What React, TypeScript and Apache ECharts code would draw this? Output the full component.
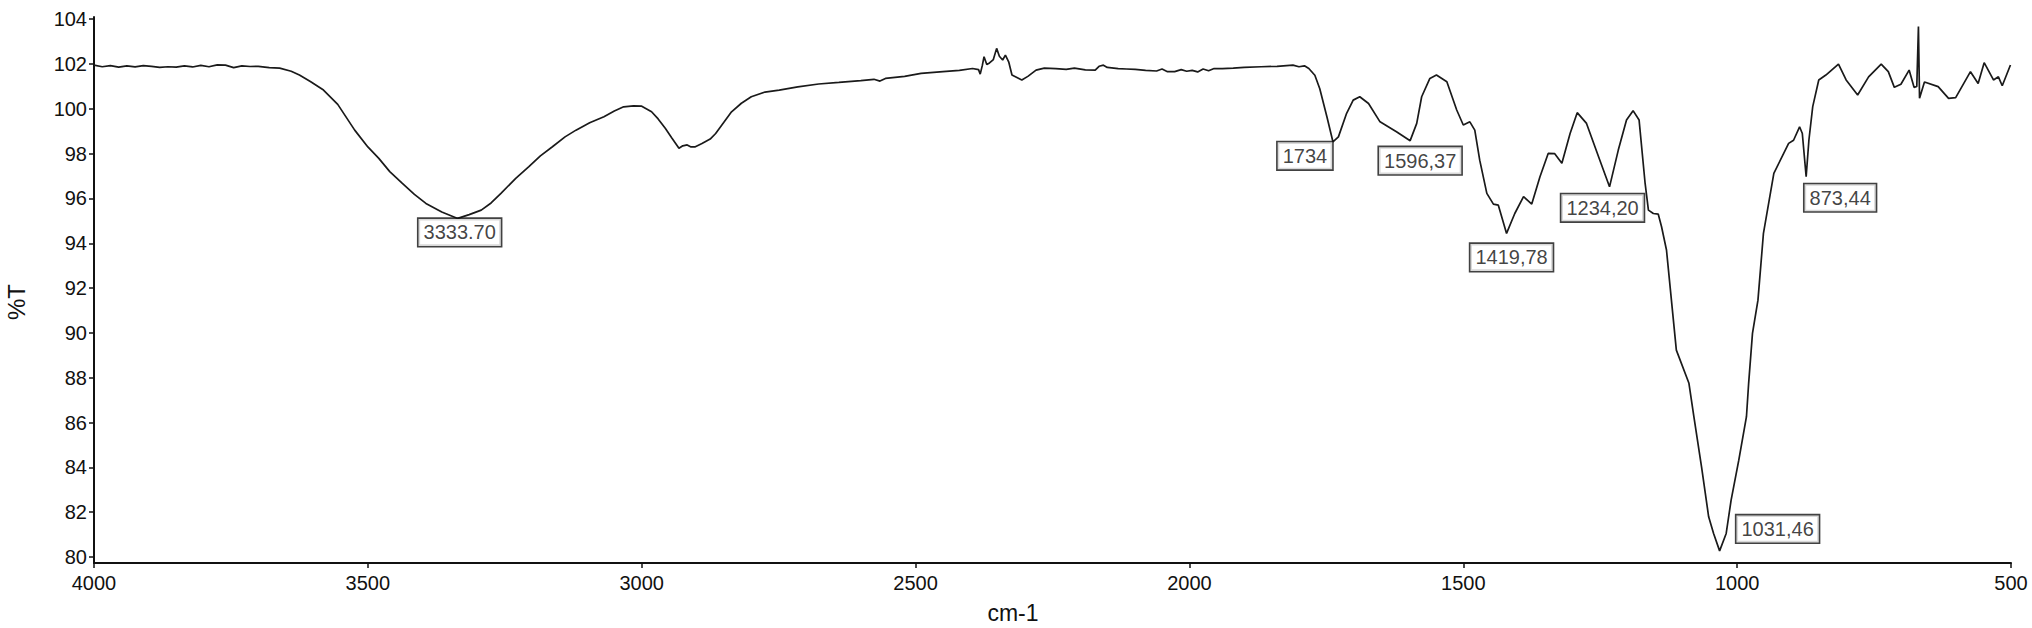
import { useEffect, useRef } from "react";
import * as echarts from "echarts";

// FTIR spectrum (cm-1 vs %T)
const wavenumbers = [
  4000, 3985, 3970, 3955, 3940, 3925, 3910, 3895, 3880, 3865, 3850, 3835, 3820, 3805, 3790, 3775,
  3760, 3745, 3730, 3715, 3700, 3680, 3661, 3640, 3625, 3605, 3581, 3555, 3524, 3500, 3480, 3460,
  3437, 3415, 3394, 3365, 3336, 3315, 3293, 3275, 3257, 3230, 3206, 3185, 3163, 3140, 3120, 3095,
  3069, 3050, 3033, 3015, 3000, 2982, 2970, 2957, 2945, 2932, 2925, 2917, 2910, 2903, 2890, 2875,
  2865, 2850, 2836, 2818, 2800, 2775, 2749, 2715, 2677, 2640, 2600, 2576, 2565, 2555, 2520, 2490,
  2450, 2420, 2396, 2385, 2382, 2378, 2375, 2370, 2365, 2358, 2352, 2347, 2341, 2336, 2330, 2324,
  2315, 2306, 2295, 2280, 2265, 2244, 2225, 2210, 2190, 2172, 2165, 2157, 2150, 2130, 2115, 2099,
  2080, 2060, 2050, 2040, 2027, 2015, 2005, 1995, 1985, 1975, 1965, 1955, 1940, 1920, 1900, 1869,
  1840, 1811, 1800, 1790, 1782, 1771, 1762, 1749, 1738, 1728, 1713, 1701, 1689, 1673, 1652, 1622,
  1597, 1585, 1576, 1561, 1549, 1530, 1512, 1500, 1488, 1479, 1470, 1457, 1445, 1436, 1421, 1406,
  1390, 1375, 1360, 1345, 1333, 1320, 1305, 1292, 1275, 1253, 1233, 1217, 1202, 1190, 1179, 1168,
  1162, 1153, 1144, 1138, 1129, 1120, 1111, 1088, 1079, 1065, 1052, 1043, 1032, 1020, 1011, 997,
  983, 979, 972, 962, 952, 933, 906, 897, 886, 881, 874, 869, 862, 851, 838, 815,
  801, 780, 760, 737, 724, 713, 701, 686, 677, 672, 669, 667, 658, 633, 614, 601,
  574, 560, 549, 532, 523, 516, 501,
];

const transmittance = [
  101.95, 101.88, 101.93, 101.86, 101.92, 101.87, 101.93, 101.9, 101.85, 101.88, 101.86, 101.92, 101.87, 101.94, 101.88, 101.96,
  101.95, 101.84, 101.92, 101.89, 101.9, 101.84, 101.82, 101.68, 101.51, 101.22, 100.84, 100.2, 99.05, 98.3, 97.79, 97.2,
  96.67, 96.18, 95.78, 95.4, 95.11, 95.28, 95.48, 95.8, 96.23, 96.9, 97.42, 97.9, 98.31, 98.75, 99.05, 99.38,
  99.65, 99.9, 100.09, 100.13, 100.12, 99.87, 99.55, 99.13, 98.7, 98.24, 98.35, 98.39, 98.3, 98.3, 98.45, 98.65,
  98.9, 99.4, 99.87, 100.25, 100.54, 100.75, 100.84, 100.98, 101.11, 101.18, 101.26, 101.32, 101.24, 101.36, 101.45, 101.58,
  101.66, 101.72, 101.8, 101.75, 101.55, 101.95, 102.33, 101.98, 102.05, 102.2, 102.7, 102.35, 102.18, 102.4, 102.1, 101.51,
  101.4, 101.29, 101.45, 101.73, 101.82, 101.8, 101.76, 101.82, 101.74, 101.73, 101.9, 101.95, 101.85, 101.8, 101.78, 101.76,
  101.72, 101.69, 101.78, 101.66, 101.66, 101.75, 101.68, 101.72, 101.65, 101.78, 101.7, 101.8, 101.8, 101.82, 101.85, 101.88,
  101.9, 101.95, 101.88, 101.92, 101.8, 101.5, 100.9, 99.65, 98.53, 98.75, 99.8, 100.39, 100.54, 100.24, 99.42, 98.98,
  98.58, 99.35, 100.54, 101.36, 101.51, 101.21, 99.95, 99.28, 99.42, 99.05, 97.71, 96.23, 95.75, 95.7, 94.44, 95.33,
  96.08, 95.75, 96.97, 98.01, 98.0, 97.57, 98.9, 99.83, 99.35, 97.86, 96.52, 98.16, 99.5, 99.92, 99.5, 96.67,
  95.48, 95.33, 95.3, 94.74, 93.7, 91.46, 89.23, 87.75, 86.26, 84.02, 81.79, 81.05, 80.27, 81.05, 82.54, 84.32,
  86.26, 87.75, 89.98, 91.46, 94.44, 97.12, 98.46, 98.6, 99.2, 98.9, 96.97, 98.6, 100.1, 101.29, 101.51, 102.0,
  101.29, 100.62, 101.43, 102.0, 101.66, 100.96, 101.1, 101.73, 100.96, 101.0, 103.67, 100.47, 101.2, 100.99, 100.47, 100.5,
  101.66, 101.13, 102.06, 101.29, 101.43, 101.03, 101.96,
];

const peakLabels = ["3333.70", "1734", "1596,37", "1419,78", "1234,20", "1031,46", "873,44"];
const peakWavenumbers = [3336, 1738, 1597, 1421, 1233, 1032, 874];
const peakValues = [95.11, 98.53, 98.58, 94.44, 96.52, 80.27, 96.97];

const yTickValues = [80, 82, 84, 86, 88, 90, 92, 94, 96, 98, 100, 102, 104];

// label box offsets (px) relative to each peak point
const LABEL_OFFSETS = [
  [2, 14],
  [-28, 14],
  [10, 20],
  [5, 24],
  [-7, 21],
  [58, -22],
  [34, 21],
];

const FONT = "'Liberation Sans', Arial, sans-serif";

export default function App() {
  const ref = useRef<HTMLDivElement>(null);

  useEffect(() => {
    if (!ref.current) return;
    const chart = echarts.init(ref.current, null, { renderer: "svg" });

    const lineData = wavenumbers.map((w, i) => [w, transmittance[i]]);
    const peakData = peakWavenumbers.map((w, i) => ({
      value: [w, peakValues[i]],
      label: { offset: LABEL_OFFSETS[i], formatter: peakLabels[i] },
    }));

    chart.setOption({
      animation: false,
      backgroundColor: "#ffffff",
      grid: { left: 94, right: 21, top: 17, bottom: 65, containLabel: false },
      xAxis: {
        type: "value",
        min: 500,
        max: 4000,
        interval: 500,
        inverse: true,
        axisLine: { show: true, lineStyle: { color: "#111", width: 2 } },
        axisTick: { show: true, length: 5, lineStyle: { color: "#111", width: 1.5 } },
        axisLabel: {
          color: "#111",
          fontFamily: FONT,
          fontSize: 20,
          margin: 10,
          formatter: (v: number) => String(v),
        },
        splitLine: { show: false },
      },
      yAxis: {
        type: "value",
        min: 79.73,
        max: 104.1,
        axisLine: { show: true, lineStyle: { color: "#111", width: 2 } },
        axisTick: {
          show: true,
          length: 5,
          customValues: yTickValues,
          lineStyle: { color: "#111", width: 1.5 },
        },
        axisLabel: {
          color: "#111",
          fontFamily: FONT,
          fontSize: 20,
          margin: 7,
          customValues: yTickValues,
          formatter: (v: number) => String(v),
        },
        splitLine: { show: false },
      },
      series: [
        {
          type: "line",
          data: lineData,
          showSymbol: false,
          symbol: "none",
          lineStyle: { color: "#1a1a1a", width: 1.7 },
          z: 2,
        },
        {
          type: "scatter",
          data: peakData,
          symbolSize: 1,
          itemStyle: { color: "rgba(0,0,0,0)" },
          z: 5,
          label: {
            show: true,
            position: "inside",
            color: "#111",
            fontFamily: FONT,
            fontSize: 20,
            lineHeight: 20,
            backgroundColor: "#ffffff",
            borderColor: "#111",
            borderWidth: 1.6,
            padding: [4, 5, 3, 5],
          },
        },
      ],
      graphic: [
        {
          type: "text",
          x: 16,
          y: 302,
          rotation: Math.PI / 2,
          style: {
            text: "%T",
            fill: "#111",
            font: `24px ${FONT}`,
            align: "center",
            verticalAlign: "middle",
          },
        },
        {
          type: "text",
          x: 1013,
          y: 613,
          style: {
            text: "cm-1",
            fill: "#111",
            font: `23px ${FONT}`,
            align: "center",
            verticalAlign: "middle",
          },
        },
      ],
    });

    return () => chart.dispose();
  }, []);

  return (
    <div
      ref={ref}
      style={{ position: "absolute", left: 0, top: 0, width: 2032, height: 628, background: "#fff" }}
    />
  );
}
